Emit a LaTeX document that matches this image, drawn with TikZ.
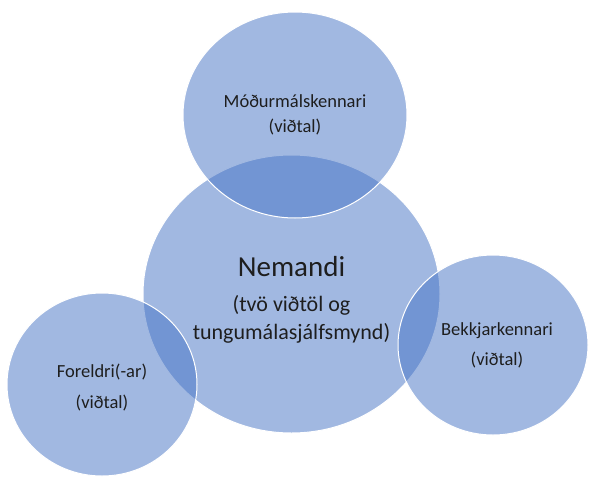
\documentclass[tikz,border=0pt]{standalone}
\usepackage{fontspec}
\setmainfont{Carlito}
\usepackage{tikz}
\usetikzlibrary{shapes.geometric}

\definecolor{vennblue}{RGB}{68,114,196}
\definecolor{vtext}{RGB}{30,30,30}

\tikzset{
    bubble/.style={ellipse, draw=white, line width=1pt, fill=vennblue, fill opacity=0.5, inner sep=0pt},
    vlabel/.style={align=center, text=vtext, inner sep=0pt}
}

\begin{document}
\begin{tikzpicture}[x=1pt, y=-1pt]
        \useasboundingbox (0, 0) rectangle (589, 477);

        % central circle
        \node[bubble, minimum width=297pt, minimum height=278pt] (nemandi) at (291.5, 294) {};

        % top circle
        \node[bubble, minimum width=224pt, minimum height=206pt] (modur) at (295, 115) {};

        % left circle
        \node[bubble, minimum width=190pt, minimum height=183pt] (foreldri) at (102, 384.5) {};

        % right circle
        \node[bubble, minimum width=190pt, minimum height=180pt] (bekkur) at (493, 345) {};

        % labels
        \node[vlabel, font=\fontsize{29}{34}\selectfont] (nemandiname) at (291.5, 267) {Nemandi};
        \node[vlabel, font=\fontsize{22}{28}\selectfont] (nemandisub) at (291.5, 319) {(tvö viðtöl og\\tungumálasjálfsmynd)};

        \node[vlabel, font=\fontsize{18.5}{25}\selectfont] (modurtext) at (295, 115) {Móðurmálskennari\\(viðtal)};
        \node[vlabel, font=\fontsize{18.5}{31}\selectfont] (foreldritext) at (102, 387.5) {Foreldri(-ar)\\(viðtal)};
        \node[vlabel, font=\fontsize{18.5}{30}\selectfont] (bekkurtext) at (497, 345) {Bekkjarkennari\\(viðtal)};

    \end{tikzpicture}
\end{document}
